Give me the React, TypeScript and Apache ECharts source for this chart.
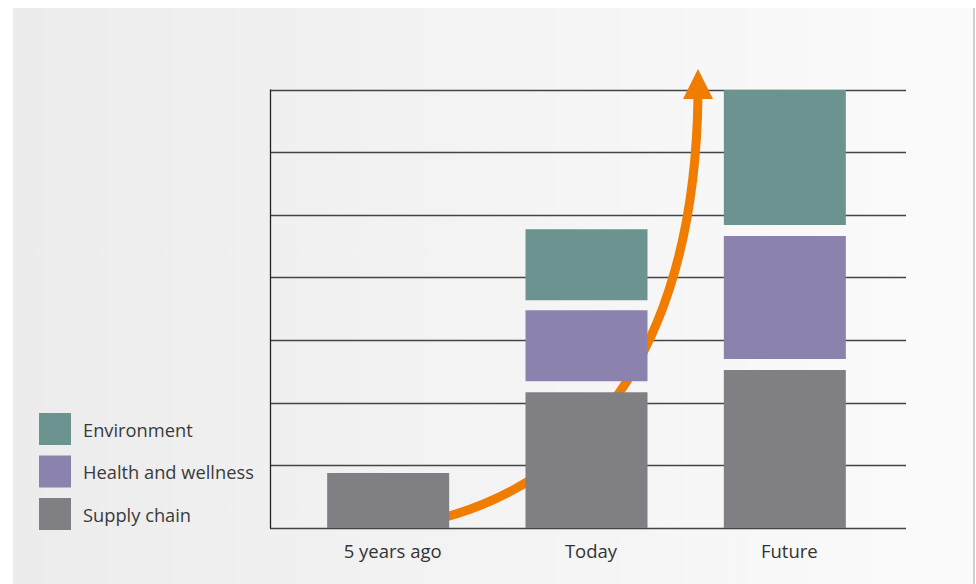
import React, { useEffect, useRef } from "react";
import * as echarts from "echarts";

const categories = ["5 years ago", "Today", "Future"];
const supplyChain = [0.88, 2.17, 2.525];
const gapLower = [0, 0.176, 0.176];
const healthWellness = [0, 1.135, 1.966];
const gapUpper = [0, 0.16, 0.176];
const environment = [0, 1.135, 2.158];
const legendNames = ["Environment", "Health and wellness", "Supply chain"];

const COLORS = {
  supply: "#807f84",
  health: "#8b82ad",
  env: "#6d9391",
  orange: "#f07c00",
};

export default function App() {
  const ref = useRef<HTMLDivElement>(null);
  useEffect(() => {
    if (!ref.current) return;
    const chart = echarts.init(ref.current, undefined, { renderer: "svg" });
    const font = "Open Sans";
    const mk = (v: number[]) => v.map((x) => (x === 0 ? "-" : x));
    chart.setOption({
      animation: false,
      grid: [
        { left: 289, right: 92, top: 90, bottom: 56 },
        { left: 270, right: 70, top: 90, bottom: 56 },
      ],
      xAxis: [
        {
          type: "category",
          gridIndex: 0,
          data: categories,
          axisLine: { show: false },
          axisTick: { show: false },
          axisLabel: { color: "#333", fontSize: 18.5, fontFamily: font, margin: 13, padding: [0, 0, 0, 9] },
        },
        { type: "value", gridIndex: 1, show: false, min: 0, max: 1 },
      ],
      yAxis: [
        { type: "value", gridIndex: 0, min: 0, max: 7, interval: 1, show: false },
        {
          type: "value",
          gridIndex: 1,
          min: 0,
          max: 7,
          interval: 1,
          axisLine: { show: true, lineStyle: { color: "#222", width: 1.3 } },
          axisTick: { show: false },
          axisLabel: { show: false },
          splitLine: { show: true, lineStyle: { color: "#444", width: 1.3 } },
        },
      ],
      legend: {
        data: legendNames,
        orient: "vertical",
        left: 39,
        top: 413,
        padding: 0,
        itemWidth: 32,
        itemHeight: 32,
        itemGap: 10.5,
        icon: "rect",
        selectedMode: false,
        textStyle: { fontSize: 18.3, color: "#3a3a3a", fontFamily: font, padding: [0, 0, 7, 7] },
      },
      graphic: [
        {
          type: "bezierCurve",
          z: 1,
          shape: { x1: 430, y1: 521, cpx1: 600, cpy1: 482, cpx2: 695, cpy2: 330, x2: 698, y2: 96 },
          style: { stroke: COLORS.orange, lineWidth: 9, fill: null },
        },
        {
          type: "polygon",
          z: 1,
          shape: { points: [[698, 69], [713, 99], [683, 99]] },
          style: { fill: COLORS.orange },
        },
      ],
      series: [
        { name: "Supply chain", type: "bar", stack: "s", data: mk(supplyChain), barWidth: 122, itemStyle: { color: COLORS.supply } },
        { name: "gap1", type: "bar", stack: "s", data: mk(gapLower), barWidth: 122, itemStyle: { color: "transparent" }, silent: true },
        { name: "Health and wellness", type: "bar", stack: "s", data: mk(healthWellness), barWidth: 122, itemStyle: { color: COLORS.health } },
        { name: "gap2", type: "bar", stack: "s", data: mk(gapUpper), barWidth: 122, itemStyle: { color: "transparent" }, silent: true },
        { name: "Environment", type: "bar", stack: "s", data: mk(environment), barWidth: 122, itemStyle: { color: COLORS.env } },
      ],
    });
    return () => chart.dispose();
  }, []);
  return (
    <div style={{ position: "fixed", left: 0, top: 0, width: 976, height: 584, background: "#fff" }}>
      <div
        style={{
          position: "absolute",
          left: 13,
          top: 8,
          width: 960,
          height: 576,
          background: "linear-gradient(to right, #ececed, #fbfbfb)",
          borderRight: "2px solid #cfcfcf",
        }}
      />
      <div ref={ref} style={{ position: "absolute", left: 0, top: 0, width: 976, height: 584 }} />
    </div>
  );
}
